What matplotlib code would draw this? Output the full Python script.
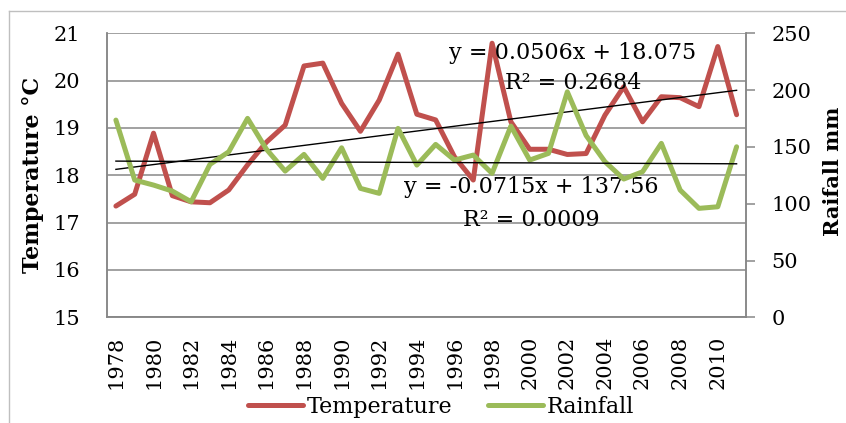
import matplotlib
matplotlib.use("Agg")
import matplotlib.pyplot as plt
import numpy as np

# Annual series, 1978-2011
years = list(range(1978, 2012))
temperature = [17.35, 17.60, 18.89, 17.57, 17.44, 17.42, 17.69, 18.22, 18.70, 19.06,
               20.31, 20.37, 19.52, 18.93, 19.59, 20.56, 19.29, 19.17, 18.39, 17.90,
               20.79, 19.13, 18.55, 18.55, 18.44, 18.46, 19.27, 19.87, 19.13, 19.66,
               19.64, 19.45, 20.72, 19.28]
rainfall = [173.6, 120.8, 116.4, 111.1, 101.7, 134.6, 145.7, 175.1, 148.0, 128.7,
            143.4, 122.3, 149.2, 113.5, 109.1, 166.3, 134.0, 152.2, 138.4, 142.8,
            126.7, 168.3, 138.4, 144.3, 198.5, 160.0, 137.0, 121.7, 128.1, 153.1,
            112.0, 95.9, 97.3, 150.1]

# Linear trend coefficients (x = 1 .. n)
temp_slope, temp_intercept, temp_r2 = 0.0506, 18.075, 0.2684
rain_slope, rain_intercept, rain_r2 = -0.0715, 137.56, 0.0009

temp_ticks = [15, 16, 17, 18, 19, 20, 21]
rain_ticks = [0, 50, 100, 150, 200, 250]

RED = "#C0504D"
GREEN = "#9BBB59"
GRID = "#878787"
FONT = "DejaVu Serif"

plt.rcParams["font.family"] = FONT

W, H = 846, 423
fig = plt.figure(figsize=(W / 100, H / 100), dpi=100)

# chart area border
fig.add_artist(plt.Line2D([9 / W, 9 / W], [0, 1 - 11.5 / H], color="#BFBFBF", lw=1.0,
                          transform=fig.transFigure))
fig.add_artist(plt.Line2D([9 / W, 1], [1 - 11.5 / H, 1 - 11.5 / H], color="#BFBFBF", lw=1.0,
                          transform=fig.transFigure))

left, right, top, bottom = 106.5, 746, 33.3, 317.3
ax = fig.add_axes([left / W, 1 - bottom / H, (right - left) / W, (bottom - top) / H])
ax2 = ax.twinx()

idx = np.arange(len(years))
x_trend = idx + 1

ax.set_xlim(-0.5, len(years) - 0.5)
ax.set_ylim(temp_ticks[0], temp_ticks[-1])
ax2.set_ylim(rain_ticks[0], rain_ticks[-1])

line_kw = dict(lw=3.6, solid_joinstyle="round", solid_capstyle="round")
ax.plot(idx, temperature, color=RED, label="Temperature", zorder=3, **line_kw)
ax2.plot(idx, rainfall, color=GREEN, label="Rainfall", zorder=3, **line_kw)

ax.plot(idx, temp_slope * x_trend + temp_intercept, color="black", lw=1.0, zorder=4)
ax2.plot(idx, rain_slope * x_trend + rain_intercept, color="black", lw=1.0, zorder=4)

TICK_FS = 15

# primary axis: gridlines, no tick marks
ax.set_yticks(temp_ticks)
ax.set_yticklabels([str(t) for t in temp_ticks], fontsize=TICK_FS)
ax.tick_params(axis="y", length=0, pad=19)
ax.grid(axis="y", color=GRID, lw=1.1)
ax.set_axisbelow(True)

ax.set_xticks(idx[::2])
ax.set_xticklabels([str(y) for y in years[::2]], rotation=90, fontsize=TICK_FS)
ax.tick_params(axis="x", length=0, pad=13)

ax2.set_yticks(rain_ticks)
ax2.set_yticklabels([str(t) for t in rain_ticks], fontsize=TICK_FS)
ax2.tick_params(axis="y", length=6.5, width=1.1, color=GRID, pad=12, direction="out")

for a in (ax, ax2):
    for side in ("left", "right", "bottom"):
        a.spines[side].set_color(GRID)
        a.spines[side].set_linewidth(1.1)
    a.spines["top"].set_visible(False)

ax.set_ylabel("Temperature °C", fontsize=16, fontweight="bold")
ax.yaxis.set_label_coords(-0.097, 0.5)
fig.text(823 / W, 1 - 171 / H, "Raifall mm", rotation=90, ha="left", va="center",
         fontsize=15, fontweight="bold")

# trend equations
EQ_FS = 16
ax.text((573 - left) / (right - left), (bottom - 53) / (bottom - top),
        f"y = {temp_slope}x + {temp_intercept}", transform=ax.transAxes,
        ha="center", va="center", fontsize=EQ_FS, zorder=5)
ax.text((573 - left) / (right - left), (bottom - 83) / (bottom - top),
        f"R² = {temp_r2}", transform=ax.transAxes,
        ha="center", va="center", fontsize=EQ_FS, zorder=5)
ax.text((531 - left) / (right - left), (bottom - 187) / (bottom - top),
        f"y = -{abs(rain_slope)}x + {rain_intercept}", transform=ax.transAxes,
        ha="center", va="center", fontsize=EQ_FS, zorder=5)
ax.text((531 - left) / (right - left), (bottom - 220) / (bottom - top),
        f"R² = {rain_r2:.4f}", transform=ax.transAxes,
        ha="center", va="center", fontsize=EQ_FS, zorder=5)

handles = ax.get_lines()[:1] + ax2.get_lines()[:1]
fig.legend(handles, ["Temperature", "Rainfall"], loc="center", ncol=2,
           bbox_to_anchor=(441 / W, 1 - 407 / H), frameon=False, fontsize=16,
           handlelength=2.5, handletextpad=0.15, columnspacing=1.6)

fig.savefig("out.png", dpi=100)
